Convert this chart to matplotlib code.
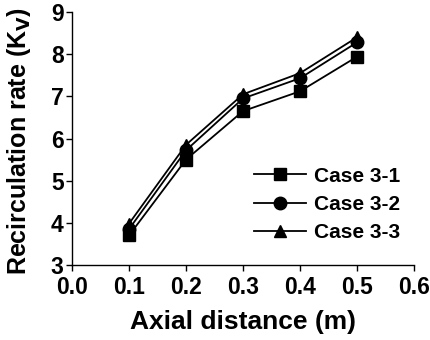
import matplotlib
matplotlib.use("Agg")
import matplotlib.pyplot as plt

x = [0.1, 0.2, 0.3, 0.4, 0.5]
case31 = [3.70, 5.50, 6.65, 7.12, 7.94]
case32 = [3.85, 5.72, 6.95, 7.43, 8.28]
case33 = [3.98, 5.85, 7.05, 7.55, 8.40]
labels = ["Case 3-1", "Case 3-2", "Case 3-3"]
xticks = [0.0, 0.1, 0.2, 0.3, 0.4, 0.5, 0.6]
yticks = [3, 4, 5, 6, 7, 8, 9]

plt.rcParams['font.family'] = ['Liberation Sans', 'DejaVu Sans']
plt.rcParams['font.weight'] = 'bold'

fig = plt.figure(figsize=(4.31, 3.40), dpi=100)
ax = fig.add_axes([0.167, 0.2206, 0.7936, 0.744])

for y, m, lab in zip([case31, case32, case33], ['s', 'o', '^'], labels):
    ax.plot(x, y, color='black', marker=m, markersize=9, linewidth=1.3,
            markerfacecolor='black', markeredgecolor='black', label=lab)

ax.set_xlim(0.0, 0.6)
ax.set_ylim(3, 9)
ax.set_xticks(xticks)
ax.set_xticklabels([f"{v:.1f}" for v in xticks])
ax.set_yticks(yticks)
ax.set_yticklabels([str(v) for v in yticks])
for s in ['top', 'right']:
    ax.spines[s].set_visible(False)
for s in ['left', 'bottom']:
    ax.spines[s].set_linewidth(1.0)
ax.tick_params(direction='out', length=4, width=1.0, labelsize=16.5, pad=2)
ax.tick_params(axis='x', pad=4)
for t in ax.get_xticklabels() + ax.get_yticklabels():
    t.set_fontweight('bold')

ax.set_xlabel("Axial distance (m)", fontsize=19, fontweight='bold', labelpad=8)
ax.set_ylabel("Recirculation rate (K$_\\mathbf{V}$)", fontsize=18, fontweight='bold')
ax.yaxis.set_label_coords(-0.115, 0.49)

leg = ax.legend(loc='lower right', bbox_to_anchor=(0.995, 0.04), frameon=False,
                fontsize=15, handlelength=2.5, handletextpad=0.35, labelspacing=0.45,
                borderaxespad=0.2)
for t in leg.get_texts():
    t.set_fontweight('bold')

fig.savefig("out.png", dpi=100)
